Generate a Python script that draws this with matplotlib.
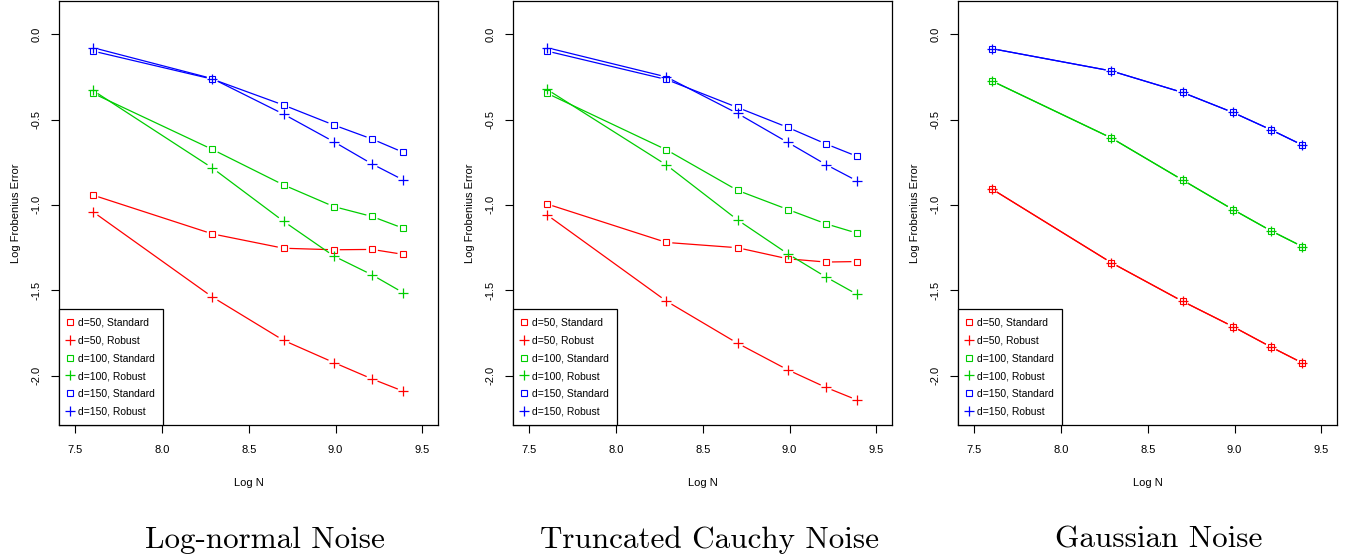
import matplotlib
matplotlib.use("Agg")
import matplotlib.pyplot as plt
import numpy as np
from matplotlib.lines import Line2D

plt.rcParams["font.family"] = ["Liberation Sans", "DejaVu Sans"]
plt.rcParams["axes.unicode_minus"] = False

# -- Data ------------------------------------------------------------------
LOG_N = [7.60, 8.29, 8.70, 8.99, 9.21, 9.39]

TITLES = ["Log-normal Noise", "Truncated Cauchy Noise", "Gaussian Noise"]

# Log-normal noise
LN_D50_STD = [-0.942, -1.170, -1.254, -1.263, -1.261, -1.290]
LN_D50_ROB = [-1.039, -1.540, -1.794, -1.924, -2.020, -2.092]
LN_D100_STD = [-0.345, -0.675, -0.883, -1.010, -1.068, -1.137]
LN_D100_ROB = [-0.328, -0.784, -1.096, -1.300, -1.410, -1.515]
LN_D150_STD = [-0.098, -0.263, -0.415, -0.532, -0.614, -0.692]
LN_D150_ROB = [-0.078, -0.260, -0.468, -0.630, -0.760, -0.854]

# Truncated Cauchy noise
TC_D50_STD = [-0.994, -1.220, -1.251, -1.316, -1.335, -1.332]
TC_D50_ROB = [-1.057, -1.564, -1.811, -1.967, -2.070, -2.144]
TC_D100_STD = [-0.345, -0.677, -0.915, -1.027, -1.111, -1.166]
TC_D100_ROB = [-0.322, -0.766, -1.088, -1.287, -1.423, -1.525]
TC_D150_STD = [-0.098, -0.265, -0.429, -0.546, -0.643, -0.716]
TC_D150_ROB = [-0.078, -0.250, -0.464, -0.634, -0.764, -0.860]

# Gaussian noise (standard and robust coincide)
GA_D50_STD = [-0.906, -1.339, -1.565, -1.713, -1.833, -1.926]
GA_D50_ROB = [-0.906, -1.339, -1.565, -1.713, -1.833, -1.926]
GA_D100_STD = [-0.273, -0.608, -0.854, -1.027, -1.152, -1.244]
GA_D100_ROB = [-0.273, -0.608, -0.854, -1.027, -1.152, -1.244]
GA_D150_STD = [-0.084, -0.215, -0.341, -0.458, -0.560, -0.649]
GA_D150_ROB = [-0.084, -0.215, -0.341, -0.458, -0.560, -0.649]

PANELS = [
    [LN_D50_STD, LN_D50_ROB, LN_D100_STD, LN_D100_ROB, LN_D150_STD, LN_D150_ROB],
    [TC_D50_STD, TC_D50_ROB, TC_D100_STD, TC_D100_ROB, TC_D150_STD, TC_D150_ROB],
    [GA_D50_STD, GA_D50_ROB, GA_D100_STD, GA_D100_ROB, GA_D150_STD, GA_D150_ROB],
]
LABELS = ["d=50, Standard", "d=50, Robust", "d=100, Standard",
          "d=100, Robust", "d=150, Standard", "d=150, Robust"]

# -- Style -----------------------------------------------------------------
RED, GREEN, BLUE = "#FF0000", "#00CD00", "#0000FF"
COLORS = [RED, RED, GREEN, GREEN, BLUE, BLUE]
MARKERS = ["s", "+", "s", "+", "s", "+"]
GAP = 6.5  # px gap around points, like R type="b"
FS = 8

W, H = 1346, 558
fig = plt.figure(figsize=(W / 100, H / 100), dpi=100)

lefts = [59, 513, 958]
ax_w, ax_top, ax_bot = 379, 1, 425


def gapped_line(ax, x, y, color):
    pts = ax.transData.transform(np.column_stack([x, y]))
    inv = ax.transData.inverted()
    for p0, p1 in zip(pts[:-1], pts[1:]):
        d = p1 - p0
        L = np.hypot(*d)
        if L <= 2 * GAP:
            continue
        u = d / L
        seg = inv.transform(np.vstack([p0 + u * GAP, p1 - u * GAP]))
        ax.plot(seg[:, 0], seg[:, 1], color=color, lw=0.9, zorder=2)


def marker_kw(c, m):
    if m == "s":
        return dict(marker="s", ms=4.9, mfc="none", mec=c, mew=0.8)
    return dict(marker="+", ms=7.5, mec=c, mew=0.9)


title_x = [265, 709.5, 1158.5]

for i, series in enumerate(PANELS):
    ax = fig.add_axes([lefts[i] / W, 1 - ax_bot / H, ax_w / W, (ax_bot - ax_top) / H])
    ax.set_xlim(7.406, 9.59)
    ax.set_ylim(-2.29, 0.195)

    for y, c, m in zip(series, COLORS, MARKERS):
        gapped_line(ax, LOG_N, y, c)
        ax.plot(LOG_N, y, ls="none", zorder=3, **marker_kw(c, m))

    ax.set_xticks([7.5, 8.0, 8.5, 9.0, 9.5])
    ax.set_yticks([0.0, -0.5, -1.0, -1.5, -2.0])
    ax.xaxis.set_major_formatter(plt.FormatStrFormatter("%.1f"))
    ax.yaxis.set_major_formatter(plt.FormatStrFormatter("%.1f"))
    ax.tick_params(direction="out", length=5.5, width=0.8, labelsize=FS,
                   colors="black")
    ax.tick_params(axis="x", pad=9)
    ax.tick_params(axis="y", pad=7, labelrotation=90)
    for lab in ax.get_yticklabels():
        lab.set_va("center")
    for sp in ax.spines.values():
        sp.set_linewidth(0.9)

    ax.set_xlabel("Log N", fontsize=FS)
    ax.xaxis.set_label_coords(0.5, (ax_bot - 483) / (ax_bot - ax_top))
    ax.xaxis.label.set_va("center")
    ax.set_ylabel("Log Frobenius Error", fontsize=FS)
    ax.yaxis.set_label_coords(-43 / ax_w, 0.5)
    ax.yaxis.label.set_va("center")

    handles = [Line2D([], [], ls="none", label=lab, **marker_kw(c, m))
               for lab, c, m in zip(LABELS, COLORS, MARKERS)]
    leg = ax.legend(handles=handles, loc="lower left", fontsize=7.5,
                    frameon=True, fancybox=False, edgecolor="black",
                    framealpha=1, borderaxespad=0, handlelength=0.5,
                    handletextpad=0.5, labelspacing=0.75, borderpad=0.8)
    leg.get_frame().set_linewidth(0.9)

    fig.text(title_x[i] / W, 1 - 548 / H, TITLES[i], family="cmr10",
             fontsize=22.4, ha="center", va="baseline")

fig.savefig("out.png", dpi=100, facecolor="white")
